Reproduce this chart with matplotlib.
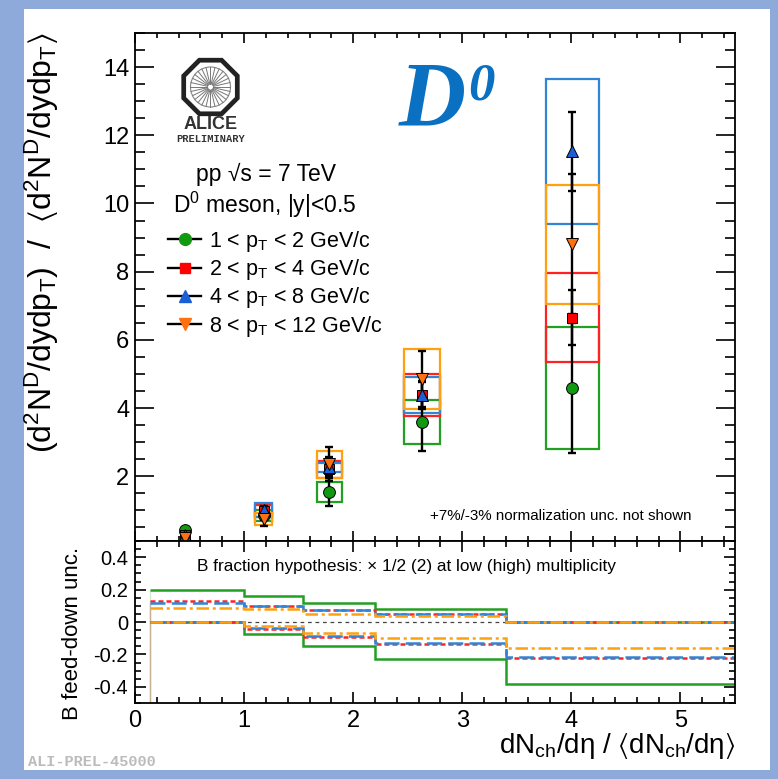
import numpy as np
import matplotlib
matplotlib.use('Agg')
import matplotlib.pyplot as plt
from matplotlib.patches import Rectangle, RegularPolygon, Circle
from matplotlib.lines import Line2D
from matplotlib.ticker import MultipleLocator, FixedLocator, FixedFormatter

plt.rcParams['font.family'] = ['Liberation Sans', 'DejaVu Sans']
plt.rcParams['mathtext.fontset'] = 'custom'
plt.rcParams['mathtext.rm'] = 'Liberation Sans'
plt.rcParams['mathtext.it'] = 'Liberation Sans:italic'
plt.rcParams['mathtext.default'] = 'regular'

# ---- data ----
mult = [0.46, 1.18, 1.78, 2.63, 4.01]
box_hw = [0.03, 0.08, 0.115, 0.165, 0.24]

pt_labels = [r'1 < p$_{T}$ < 2 GeV/c', r'2 < p$_{T}$ < 4 GeV/c',
             r'4 < p$_{T}$ < 8 GeV/c', r'8 < p$_{T}$ < 12 GeV/c']

y_pt12 = [0.42, 0.85, 1.53, 3.59, 4.59]
stat_pt12 = [0.05, 0.12, 0.41, 0.85, 1.9]
syst_pt12 = [0.05, 0.15, 0.29, 0.65, 1.8]

y_pt24 = [0.28, 0.97, 2.2, 4.38, 6.65]
stat_pt24 = [0.04, 0.1, 0.2, 0.38, 0.8]
syst_pt24 = [0.04, 0.18, 0.25, 0.62, 1.31]

y_pt48 = [0.27, 1.0, 2.26, 4.38, 11.53]
stat_pt48 = [0.05, 0.12, 0.3, 0.4, 1.15]
syst_pt48 = [0.04, 0.2, 0.14, 0.54, 2.13]

y_pt812 = [0.2, 0.74, 2.35, 4.85, 8.8]
stat_pt812 = [0.05, 0.2, 0.5, 0.83, 2.05]
syst_pt812 = [0.04, 0.18, 0.39, 0.88, 1.75]

# B feed-down uncertainty (bottom pad)
fd_edges = [0.14, 1.0, 1.54, 2.2, 3.4, 5.5]
fd_up_pt12 = [0.198, 0.162, 0.12, 0.083, 0.0]
fd_lo_pt12 = [0.0, -0.072, -0.151, -0.226, -0.385]
fd_up_pt24 = [0.13, 0.1, 0.077, 0.05, 0.0]
fd_lo_pt24 = [0.0, -0.042, -0.09, -0.135, -0.225]
fd_up_pt48 = [0.117, 0.097, 0.072, 0.047, 0.0]
fd_lo_pt48 = [0.0, -0.038, -0.085, -0.13, -0.215]
fd_up_pt812 = [0.088, 0.08, 0.05, 0.038, 0.0]
fd_lo_pt812 = [0.0, -0.022, -0.066, -0.098, -0.16]

# ---- styles ----
W, H = 778, 779
def fx(px):
    return px / W
def fy(py):
    return 1 - py / H

series = [
    (y_pt12, stat_pt12, syst_pt12, 'o', '#119911', '#22a022', 8.5, fd_up_pt12, fd_lo_pt12, '-'),
    (y_pt24, stat_pt24, syst_pt24, 's', '#ff0000', '#ff2222', 7.5, fd_up_pt24, fd_lo_pt24, (0, (2.0, 1.2))),
    (y_pt48, stat_pt48, syst_pt48, '^', '#1a5fd6', '#2f86d6', 8.5, fd_up_pt48, fd_lo_pt48, (0, (6, 2.5))),
    (y_pt812, stat_pt812, syst_pt812, 'v', '#ff7010', '#ffa010', 8.5, fd_up_pt812, fd_lo_pt812, (0, (5, 1.5, 1.2, 1.5))),
]

fig = plt.figure(figsize=(7.78, 7.79), dpi=100)
fig.patch.set_facecolor('#8eaadb')
fig.patches.append(Rectangle((fx(24), fy(770)), fx(770) - fx(24), (770 - 9) / H,
                             transform=fig.transFigure, fc='white', ec='none', zorder=-10))

ax1 = fig.add_axes([fx(135), fy(541), fx(735) - fx(135), (541 - 33) / H])
ax2 = fig.add_axes([fx(135), fy(703), fx(735) - fx(135), (703 - 541) / H])

'''
 top pad: normalised yields
'''
for (yv, st, sy, mk, mcol, bcol, ms, _, _, _) in series:
    for x, hw, y, s in zip(mult, box_hw, yv, sy):
        ax1.add_patch(Rectangle((x - hw, y - s), 2 * hw, 2 * s, fill=False,
                                ec=bcol, lw=1.6, zorder=2))
for (yv, st, sy, mk, mcol, bcol, ms, _, _, _) in series:
    ax1.errorbar(mult, yv, yerr=st, fmt='none', ecolor='k', elinewidth=1.7,
                 capsize=3.2, capthick=1.7, zorder=3)
for (yv, st, sy, mk, mcol, bcol, ms, _, _, _) in series:
    ax1.plot(mult, yv, ls='none', marker=mk, ms=ms, mfc=mcol, mec='k', mew=0.7, zorder=4)

ax1.set_xlim(0, 5.5)
ax1.set_ylim(0.1, 15)
ax1.yaxis.set_major_locator(FixedLocator([2, 4, 6, 8, 10, 12, 14]))
ax1.yaxis.set_minor_locator(MultipleLocator(0.5))
ax1.xaxis.set_major_locator(MultipleLocator(1))
ax1.xaxis.set_minor_locator(MultipleLocator(0.2))
ax1.tick_params(which='both', direction='in', top=True, right=True, width=1.2,
                labelbottom=False, labelsize=17, pad=4)
ax1.tick_params(axis='y', which='major', length=14)
ax1.tick_params(axis='y', which='minor', length=7)
ax1.tick_params(axis='x', which='major', length=7)
ax1.tick_params(axis='x', which='minor', length=3.5)
for sp in ax1.spines.values():
    sp.set_linewidth(1.3)

handles = [Line2D([0], [0], color='k', lw=1.7, marker=s[3], ms=s[6], mfc=s[4], mec=s[4])
           for s in series]
ax1.legend(handles, pt_labels, loc='upper left', bbox_to_anchor=(fx(168), fy(229)),
           bbox_transform=fig.transFigure, frameon=False, fontsize=15.5,
           handlelength=1.55, handletextpad=0.35, labelspacing=0.15,
           borderpad=0, borderaxespad=0)

fig.text(fx(196), fy(181), 'pp \u221as = 7 TeV', fontsize=16.5, va='baseline')
fig.text(fx(173), fy(213), r'D$^{0}$ meson, |y|<0.5', fontsize=16.5, va='baseline')
fig.text(fx(430), fy(520), '+7%/-3% normalization unc. not shown', fontsize=10.9, va='baseline')

fig.text(fx(42), fy(32), r'(d$^{2}$N$^{D}$/dydp$_{T}$)  /  $\langle$d$^{2}$N$^{D}$/dydp$_{T}$$\rangle$',
         rotation=90, fontsize=23, ha='center', va='top')

'''
 bottom pad: B feed-down uncertainty
'''
ax2.hlines(0, fd_edges[0], 5.5, colors='#444444', lw=0.9, linestyles=(0, (3, 3)), zorder=1)
for (_, _, _, _, _, bcol, _, fup, flo, ls) in series:
    ax2.stairs(fup, fd_edges, baseline=None, color=bcol, lw=1.8, ls=ls, zorder=2)
    ax2.stairs(flo, fd_edges, baseline=None, color=bcol, lw=1.8, ls=ls, zorder=2)
    ax2.vlines(fd_edges[0], -0.5, fup[0], colors=bcol, lw=1.0, alpha=0.2, zorder=1)

ax2.text(0.57, 0.34, 'B fraction hypothesis: \u00d7 1/2 (2) at low (high) multiplicity',
         fontsize=12.4, va='center')
ax2.set_xlim(0, 5.5)
ax2.set_ylim(-0.5, 0.5)
ax2.yaxis.set_major_locator(FixedLocator([-0.4, -0.2, 0, 0.2, 0.4]))
ax2.yaxis.set_major_formatter(FixedFormatter(['-0.4', '-0.2', '0', '0.2', '0.4']))
ax2.yaxis.set_minor_locator(MultipleLocator(0.05))
ax2.xaxis.set_major_locator(MultipleLocator(1))
ax2.xaxis.set_minor_locator(MultipleLocator(0.2))
ax2.tick_params(which='both', direction='in', top=True, right=True, width=1.2)
ax2.tick_params(which='major', length=8)
ax2.tick_params(which='minor', length=4)
ax2.tick_params(axis='y', labelsize=14.5, pad=5)
ax2.tick_params(axis='x', labelsize=17, pad=5)
for sp in ax2.spines.values():
    sp.set_linewidth(1.3)

fig.text(fx(72), fy(547), 'B feed-down unc.', rotation=90, fontsize=16, ha='center', va='top')
fig.text(fx(735), fy(753), r'dN$_{ch}$/d$\eta$ / $\langle$dN$_{ch}$/d$\eta$$\rangle$',
         fontsize=20, ha='right', va='baseline')

fig.text(fx(28), fy(762), 'ALI-PREL-45000', family='Liberation Mono', weight='bold',
         color='#bbbbbb', fontsize=11, va='center')

'''
 D0 label and ALICE logo
'''
fig.text(fx(399), fy(125), 'D', family='Liberation Serif', style='italic', weight='bold',
         fontsize=67, color='#0a70c2', va='baseline')
fig.text(fx(468), fy(99), '0', family='Liberation Serif', style='italic', weight='bold',
         fontsize=38, color='#0a70c2', va='baseline')

axl = fig.add_axes([0, 0, 1, 1], zorder=5)
axl.set_xlim(0, W)
axl.set_ylim(H, 0)
axl.axis('off')
axl.patch.set_alpha(0)
cx, cy = 210.5, 87
axl.add_patch(RegularPolygon((cx, cy), numVertices=8, radius=29, orientation=np.pi / 8,
                             fill=False, ec='#222222', lw=3.4))
axl.add_patch(Circle((cx, cy), 20, fill=False, ec='#888888', lw=0.8))
for a in np.linspace(0, 2 * np.pi, 28, endpoint=False):
    axl.plot([cx + 3 * np.cos(a), cx + 20 * np.cos(a)],
             [cy + 3 * np.sin(a), cy + 20 * np.sin(a)], color='#777777', lw=0.7)
axl.text(cx, 129, 'ALICE', ha='center', va='baseline', fontsize=13, weight='bold', color='#333333')
axl.text(cx, 142, 'PRELIMINARY', ha='center', va='baseline', fontsize=7.5, weight='bold',
         family='Liberation Mono', color='#333333')

fig.savefig('out.png', dpi=100, facecolor=fig.get_facecolor())
